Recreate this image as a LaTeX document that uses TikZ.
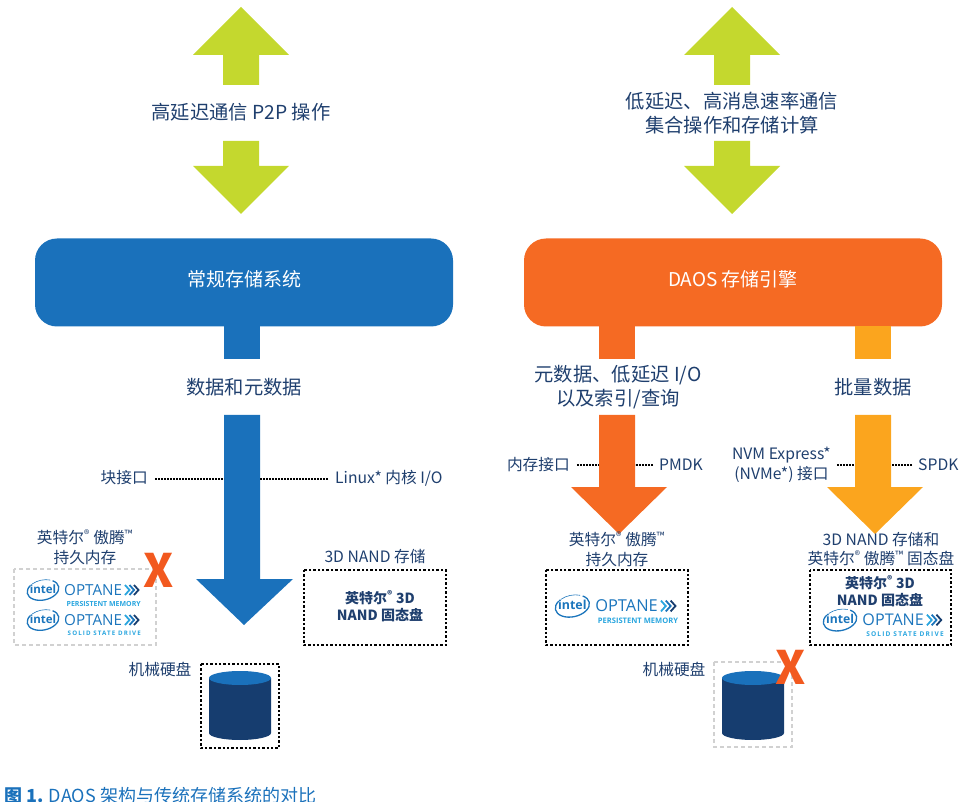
\documentclass[tikz,border=0pt]{standalone}
\usepackage{fontspec}
\setmainfont{Noto Sans CJK SC}
\newfontfamily\latinf{Open Sans}
\newfontfamily\latinsp[LetterSpace=18]{Open Sans}
\definecolor{lime}{HTML}{C4D82E}
\definecolor{iblue}{HTML}{1A71BB}
\definecolor{iorange}{HTML}{F56A23}
\definecolor{iamber}{HTML}{FBA51E}
\definecolor{navy}{HTML}{163D6F}
\definecolor{txt}{HTML}{1F3F6E}
\definecolor{cross}{HTML}{F2591F}
\definecolor{lblue}{HTML}{2AA6DF}
\definecolor{dblue}{HTML}{1B75BC}
\tikzset{
 x=1pt,y=-1pt,
 lab/.style={text=txt,font=\fontsize{19.3}{24}\selectfont,align=center,inner sep=0pt},
 slab/.style={text=txt,font=\fontsize{15.7}{19.5}\selectfont,align=center,inner sep=0pt},
 blk/.style={text=txt,font=\bfseries\fontsize{14}{16.5}\selectfont,align=center,inner sep=0pt},
 boxd/.style={draw=black,line width=1.6pt,dash pattern=on 2.4pt off 2pt},
 boxg/.style={draw=black!18,line width=1.6pt,dash pattern=on 4pt off 3pt},
 leader/.style={draw=black,line width=1.2pt,dash pattern=on 2pt off 1pt},
 xmark/.style={text=cross,font=\bfseries\fontsize{46}{46}\selectfont,inner sep=0pt},
 mainbox/.style={rounded corners=22pt,minimum width=418pt,minimum height=88pt,inner sep=0pt,text=white,font=\fontsize{19}{24}\selectfont},
}
\newcommand{\optane}[5]{% scale x y font subtitle
 \begin{scope}[shift={(#2,#3)},scale=#1,every node/.append style={transform shape}]
  \begin{scope}[shift={(17,0)},rotate=12]
   \draw[dblue,line width=1.3pt] ({16*cos(-45)},{10*sin(-45)}) arc[start angle=-45,end angle=225,x radius=16,y radius=10];
   \draw[dblue,line width=0.6pt] ({16*cos(235)},{10*sin(235)}) arc[start angle=235,end angle=305,x radius=16,y radius=10];
  \end{scope}
  \node[inner sep=0pt,text=dblue,font=\latinf\bfseries\fontsize{11.5}{11.5}\selectfont] at (17,-1) {intel};
  \node[anchor=west,inner sep=0pt,text=dblue,font=\latinf\fontsize{15.2}{15.2}\selectfont] at (38,0) {OPTANE};
  \foreach \dx/\c in {99/lblue,103.5/dblue,108/navy}{
   \draw[\c,line width=1.8pt] (\dx,-5) -- (\dx+4.5,0) -- (\dx,5);
  }
  \node[anchor=east,inner sep=0pt,text=lblue,font=#4] at (115,13.5) {#5};
 \end{scope}}
\newcommand{\cyl}[2]{% cx top
  \fill[navy] (#1-31,#2+7) -- (#1-31,#2+62) arc[start angle=180,end angle=0,x radius=31,y radius=7] -- (#1+31,#2+7) -- cycle;
  \fill[iblue] (#1,#2+7) ellipse [x radius=31,y radius=7];
}
\begin{document}
\begin{tikzpicture}
\useasboundingbox (0,0) rectangle (962,802);
% lime arrows
\foreach \c in {241,732}{
 \fill[lime] (\c-48,55) -- (\c,7) -- (\c+48,55) -- (\c+18,55) -- (\c+18,85) -- (\c-18,85) -- (\c-18,55) -- cycle;
 \fill[lime] (\c-18,141) -- (\c+18,141) -- (\c+18,166) -- (\c+48,166) -- (\c,214) -- (\c-48,166) -- (\c-18,166) -- cycle;
}
\node[lab] (t1) at (241,112) {高延迟通信 P2P 操作};
\node[lab] (t2) at (732,113) {低延迟、高消息速率通信\\集合操作和存储计算};
% main boxes
\node[mainbox,fill=iblue] (sys) at (244,282.5) {\raisebox{-4.5pt}[0pt][0pt]{常规存储系统}};
\node[mainbox,fill=iorange] (daos) at (733,282.5) {\raisebox{-4.5pt}[0pt][0pt]{DAOS 存储引擎}};
% stubs
\fill[iblue] (224,326) rectangle (260,359);
\fill[iorange] (599,326) rectangle (635,359);
\fill[iamber] (855,326) rectangle (891,359);
% long arrows
\fill[iblue] (224,415) -- (260,415) -- (260,579) -- (293,579) -- (244,625) -- (196,579) -- (224,579) -- cycle;
\node[lab] (d1) at (244,387) {数据和元数据};
\node[lab] (d2) at (618,387) {元数据、低延迟 I/O\\以及索引/查询};
\node[lab] (d3) at (873,387) {批量数据};
\coordinate (a1l) at (224,479); \coordinate (a1r) at (260,479);
\coordinate (a2l) at (599,465); \coordinate (a2r) at (635,465);
\coordinate (a3l) at (855,465); \coordinate (a3r) at (891,465);
\fill[iorange] (599,415) -- (635,415) -- (635,487) -- (667,487) -- (619,534) -- (571,487) -- (599,487) -- cycle;
\fill[iamber] (855,415) -- (891,415) -- (891,487) -- (923,487) -- (875,534) -- (827,487) -- (855,487) -- cycle;
% leaders
\node[slab,anchor=east] (l1) at (148,478) {块接口};
\node[slab,anchor=west] (r1) at (335,478) {Linux* 内核 I/O};
\draw[leader] (l1.east)++(7,1) -- (a1l);
\draw[leader] (r1.west)++(-7,1) -- (a1r);
\node[slab,anchor=east] (l2) at (570,465) {内存接口};
\node[slab,anchor=west] (r2) at (659,465) {PMDK};
\draw[leader] (l2.east)++(7,0) -- (a2l);
\draw[leader] (r2.west)++(-6,0) -- (a2r);
\node[slab,anchor=east] (l3) at (831,465) {NVM Express*\\(NVMe*) 接口};
\node[slab,anchor=west] (r3) at (918,465) {SPDK};
\draw[leader] (l3.east)++(6,0) -- (a3l);
\draw[leader] (r3.west)++(-6,0) -- (a3r);
% left column storage
\node[slab] (p1) at (85,547) {英特尔\textsuperscript{®} 傲腾\textsuperscript{™}\\持久内存};
\draw[boxg] (14,569) rectangle (156,645);
\optane{1}{26}{590}{\latinf\bfseries\fontsize{7}{7}\selectfont}{PERSISTENT MEMORY}
\optane{1}{26}{620}{\latinsp\bfseries\fontsize{6.2}{6.2}\selectfont}{SOLID STATE DRIVE}
\node[xmark] (x1) at (159,570) {X};
\node[slab] (s1) at (375,557) {3D NAND 存储};
\draw[boxd] (304,570) rectangle (446,645);
\node[blk] (b1) at (380,606) {英特尔\textsuperscript{®} 3D\\NAND 固态盘};
\node[slab] (h1) at (160,669) {机械硬盘};
\draw[boxd] (201,664) rectangle (279,748);
\cyl{240}{671}
% middle
\node[slab] (p2) at (617,549) {英特尔\textsuperscript{®} 傲腾\textsuperscript{™}\\持久内存};
\draw[boxd] (546,570) rectangle (688,645);
\optane{1.08}{554}{606}{\latinf\bfseries\fontsize{7}{7}\selectfont}{PERSISTENT MEMORY}
\node[slab] (h2) at (674,669) {机械硬盘};
\draw[boxg] (714,662) rectangle (792,747);
\cyl{753}{671}
\node[xmark] (x2) at (791,667) {X};
% right
\node[slab] (s3) at (881,549) {3D NAND 存储和\\英特尔\textsuperscript{®} 傲腾\textsuperscript{™} 固态盘};
\draw[boxd] (810,570) rectangle (951,645);
\node[blk] (b3) at (880,591) {英特尔\textsuperscript{®} 3D\\NAND 固态盘};
\optane{1.06}{822}{620}{\latinsp\bfseries\fontsize{6.2}{6.2}\selectfont}{SOLID STATE DRIVE}
% caption
\node[anchor=west,inner sep=0pt,text=iblue,font=\fontsize{18}{20}\selectfont] (cap) at (4,796) {{\bfseries 图 1.} DAOS 架构与传统存储系统的对比};
\end{tikzpicture}
\end{document}
